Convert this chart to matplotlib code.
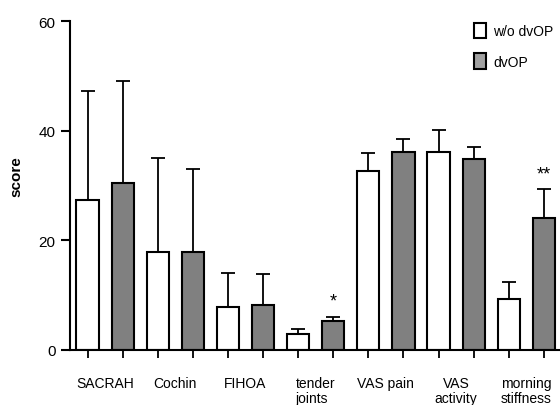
import numpy as np
import matplotlib.pyplot as plt
from matplotlib.patches import Patch

plt.rcParams['font.family'] = ['Liberation Sans', 'DejaVu Sans']

categories = ['SACRAH', 'Cochin', 'FIHOA', 'tender\njoints', 'VAS pain',
              'VAS\nactivity', 'morning\nstiffness']
align = ['center', 'center', 'center', 'left', 'center', 'center', 'left']
wo_mean = [27.4, 17.8, 7.9, 3.0, 32.6, 36.2, 9.3]
wo_top = [47.2, 35.0, 14.05, 3.8, 35.9, 40.1, 12.4]
dv_mean = [30.5, 17.8, 8.2, 5.2, 36.2, 34.8, 24.1]
dv_top = [49.1, 33.0, 13.9, 6.0, 38.5, 37.1, 29.4]
stars = {3: ('*', 7.3), 6: ('**', 30.6)}

wo_mean = np.array(wo_mean)
dv_mean = np.array(dv_mean)
wo_err = np.array(wo_top) - wo_mean
dv_err = np.array(dv_top) - dv_mean

n = len(categories)
xw = np.arange(n) * 2.0
xd = xw + 1.0

fig = plt.figure(figsize=(5.6, 4.06), dpi=100)
ax = fig.add_axes([0.125, 0.1355, 0.875, 0.810])

ekw = dict(ecolor='black', elinewidth=1.3, capsize=5, capthick=1.3)
ax.errorbar(xw, wo_mean, yerr=[np.zeros(n), wo_err], fmt='none', zorder=1, **ekw)
ax.errorbar(xd, dv_mean, yerr=[np.zeros(n), dv_err], fmt='none', zorder=1, **ekw)
ax.bar(xw, wo_mean, width=0.63, color='white', edgecolor='black', linewidth=1.5, zorder=2)
ax.bar(xd, dv_mean, width=0.63, color='#808080', edgecolor='black', linewidth=1.5, zorder=2)

for i, (s, y) in stars.items():
    ax.text(xd[i], y, s, ha='center', va='bottom', fontsize=13)

ax.set_xlim(-0.5, 13.46)
ax.set_ylim(0, 60)
ax.set_yticks([0, 20, 40, 60])
ax.tick_params(axis='y', length=6.5, width=1.5, labelsize=11, pad=4)
ax.set_xticks(np.concatenate([xw, xd]))
ax.set_xticklabels([])
ax.tick_params(axis='x', which='major', length=6, width=1.3, direction='out')
ax.set_xticks(xw + 0.5, minor=True)
ax.set_xticklabels(categories, minor=True, fontsize=10, linespacing=1.05)
ax.tick_params(axis='x', which='minor', length=0, pad=19)
for lab, a in zip(ax.get_xticklabels(minor=True), align):
    lab.set_multialignment(a)

for s in ['top', 'right']:
    ax.spines[s].set_visible(False)
for s in ['left', 'bottom']:
    ax.spines[s].set_linewidth(1.5)

ax.set_ylabel('score', fontsize=11, fontweight='bold')
ax.yaxis.set_label_coords(-0.095, 0.53)

handles = [Patch(facecolor='white', edgecolor='black', linewidth=1.5, label='w/o dvOP'),
           Patch(facecolor='#a0a0a0', edgecolor='black', linewidth=1.5, label='dvOP')]
fig.legend(handles=handles, loc='upper left', bbox_to_anchor=(0.824, 0.972),
           frameon=False, fontsize=10, handlelength=0.9, handleheight=1.3,
           handletextpad=0.5, labelspacing=1.1)

plt.savefig('out.png', dpi=100)
